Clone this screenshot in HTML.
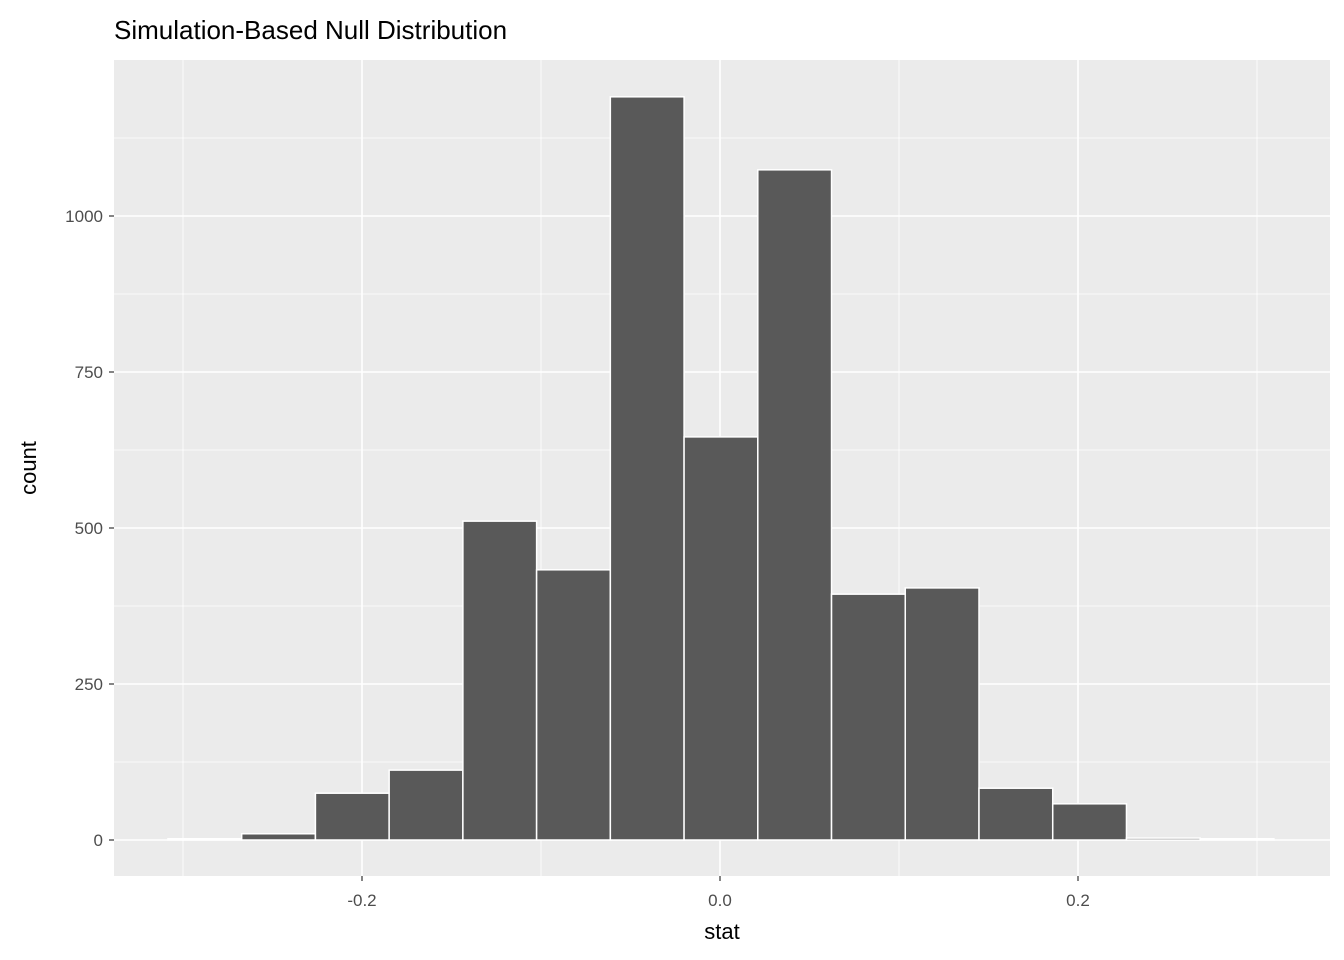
<!DOCTYPE html>
<html><head><meta charset="utf-8"><style>
html,body{margin:0;padding:0;background:#fff;}
svg{display:block;font-family:"Liberation Sans",Arial,sans-serif;}
</style></head><body>
<svg id="chart" width="1344" height="960" xmlns="http://www.w3.org/2000/svg">
<rect width="1344" height="960" fill="#fff"/>
<text x="114" y="39" font-size="26" fill="#000">Simulation-Based Null Distribution</text>
<rect x="114" y="60" width="1216" height="816" fill="#ebebeb"/>
<g id="grid"></g>
<g id="bars"></g>
<g id="axes"></g>
<text x="722" y="939" font-size="22" text-anchor="middle" fill="#000">stat</text>
<text transform="translate(36,468) rotate(-90)" font-size="22" text-anchor="middle" fill="#000">count</text>
</svg>
<script>
const binStart = -0.3084;
const binWidth = 0.04119;
const counts = [2, 10, 75, 112, 511, 433, 1191, 646, 1074, 394, 404, 83, 58, 3, 2];
const xTicks = [-0.2, 0.0, 0.2];
const xTickLabels = ["-0.2", "0.0", "0.2"];
const xMinor = [-0.3, -0.1, 0.1, 0.3];
const yTicks = [0, 250, 500, 750, 1000];
const yMinor = [125, 375, 625, 875, 1125];

const NS = "http://www.w3.org/2000/svg";
const X = v => 720 + v * 1790;
const Y = v => 840 - v * 0.624;
const PL = 114, PR = 1330, PT = 60, PB = 876;
function mk(tag, attrs, parent) {
  const e = document.createElementNS(NS, tag);
  for (const k in attrs) e.setAttribute(k, attrs[k]);
  parent.appendChild(e);
  return e;
}
const grid = document.getElementById("grid");
const bars = document.getElementById("bars");
const axes = document.getElementById("axes");
xMinor.forEach(v => {
  const l = mk("line", {x1: X(v), x2: X(v), y1: PT, y2: PB, stroke: "#fff", "stroke-width": 0.8}, grid);
  
  
});
yMinor.forEach(v => {
  const l = mk("line", {x1: PL, x2: PR, y1: Y(v), y2: Y(v), stroke: "#fff", "stroke-width": 0.8}, grid);
  
  
});
xTicks.forEach((v, i) => {
  const l = mk("line", {x1: X(v), x2: X(v), y1: PT, y2: PB, stroke: "#fff", "stroke-width": 1.6}, grid);
  
  
  const t = mk("line", {x1: X(v), x2: X(v), y1: PB, y2: PB + 5, stroke: "#333", "stroke-width": 1.2}, axes);
  
  
  const tx = mk("text", {x: X(v), y: PB + 30, "font-size": 17, fill: "#4d4d4d", "text-anchor": "middle"}, axes);
  tx.textContent = xTickLabels[i];
  
  
});
yTicks.forEach(v => {
  const l = mk("line", {x1: PL, x2: PR, y1: Y(v), y2: Y(v), stroke: "#fff", "stroke-width": 1.6}, grid);
  
  
  const t = mk("line", {x1: PL - 5, x2: PL, y1: Y(v), y2: Y(v), stroke: "#333", "stroke-width": 1.2}, axes);
  
  
  const tx = mk("text", {x: PL - 11, y: Y(v) + 6, "font-size": 17, fill: "#4d4d4d", "text-anchor": "end"}, axes);
  tx.textContent = String(v);
  
  
});
counts.forEach((c, i) => {
  const x0 = X(binStart + i * binWidth), x1 = X(binStart + (i + 1) * binWidth);
  const r = mk("rect", {x: x0, y: Y(c), width: x1 - x0, height: Y(0) - Y(c), fill: "#595959", stroke: "#fff", "stroke-width": 1.5}, bars);
  
  
});
</script>
</body></html>
